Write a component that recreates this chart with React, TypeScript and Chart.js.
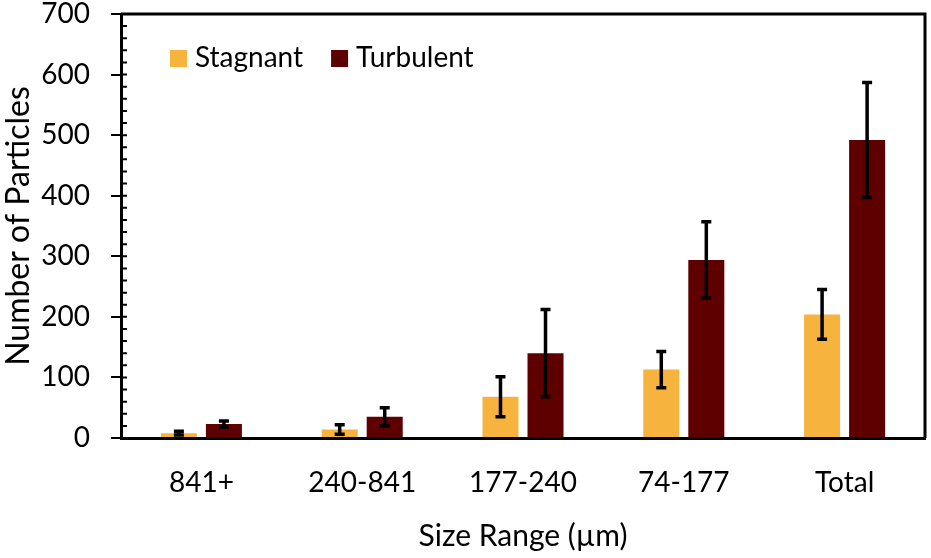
import React, { useEffect, useRef } from "react";
import { Chart, registerables } from "chart.js";

Chart.register(...registerables);

const categories = ["841+", "240-841", "177-240", "74-177", "Total"];
const seriesNames = ["Stagnant", "Turbulent"];
const stagnant = [8, 14, 68, 113, 204];
const stagnantErr = [3, 8, 33, 30, 41];
const turbulent = [23, 35, 140, 294, 492];
const turbulentErr = [5, 15, 72, 63, 95];
const yTicks = [0, 100, 200, 300, 400, 500, 600, 700];
const colors = ["#F6B43E", "#5E0000"];

const FONT = "Lato, 'Open Sans', sans-serif";

const errorBars = {
  id: "errorBars",
  afterDatasetsDraw(chart: any) {
    const ctx = chart.ctx;
    const y = chart.scales.y;
    const errs = [stagnantErr, turbulentErr];
    chart.data.datasets.forEach((ds: any, i: number) => {
      const meta = chart.getDatasetMeta(i);
      meta.data.forEach((el: any, j: number) => {
        const v = ds.data[j];
        const e = errs[i][j];
        const top = y.getPixelForValue(v + e);
        const bot = y.getPixelForValue(v - e);
        ctx.save();
        ctx.strokeStyle = "#000";
        ctx.lineWidth = 3.5;
        ctx.beginPath();
        ctx.moveTo(el.x, top);
        ctx.lineTo(el.x, bot);
        ctx.moveTo(el.x - 5, top);
        ctx.lineTo(el.x + 5, top);
        ctx.moveTo(el.x - 5, bot);
        ctx.lineTo(el.x + 5, bot);
        ctx.stroke();
        ctx.restore();
      });
    });
  },
};

const frameAndTicks = {
  id: "frameAndTicks",
  afterDraw(chart: any) {
    const ctx = chart.ctx;
    const a = chart.chartArea;
    const y = chart.scales.y;
    ctx.save();
    ctx.strokeStyle = "#000";
    ctx.lineWidth = 3;
    ctx.beginPath();
    ctx.moveTo(a.left, a.top);
    ctx.lineTo(a.right, a.top);
    ctx.lineTo(a.right, a.bottom);
    ctx.stroke();
    ctx.lineWidth = 2;
    ctx.beginPath();
    for (let v = 0; v <= 700; v += 20) {
      const py = y.getPixelForValue(v);
      ctx.moveTo(a.left, py);
      ctx.lineTo(a.left + 6, py);
    }
    ctx.stroke();
    ctx.restore();
  },
};

const legendPlugin = {
  id: "customLegend",
  afterDraw(chart: any) {
    const ctx = chart.ctx;
    const a = chart.chartArea;
    ctx.save();
    ctx.font = `28px ${FONT}`;
    ctx.textBaseline = "middle";
    ctx.fillStyle = "#000";
    let x = a.left + 49;
    const cy = a.top + 44;
    chart.data.datasets.forEach((ds: any) => {
      ctx.fillStyle = ds.backgroundColor;
      ctx.fillRect(x, cy - 8, 17, 17);
      ctx.fillStyle = "#000";
      ctx.fillText(ds.label, x + 25, cy);
      x += 25 + ctx.measureText(ds.label).width + 28;
    });
    ctx.restore();
  },
};

export default function App() {
  const ref = useRef<HTMLCanvasElement>(null);
  useEffect(() => {
    const chart = new Chart(ref.current!, {
      type: "bar",
      data: {
        labels: categories,
        datasets: [
          { label: seriesNames[0], data: stagnant, backgroundColor: colors[0] },
          { label: seriesNames[1], data: turbulent, backgroundColor: colors[1] },
        ],
      },
      options: {
        animation: false,
        responsive: false,
        layout: { padding: { left: 0, right: 6, top: 14, bottom: 0 } },
        datasets: { bar: { categoryPercentage: 0.56, barPercentage: 0.8 } },
        plugins: { legend: { display: false }, tooltip: { enabled: false } },
        scales: {
          x: {
            grid: { display: false },
            border: { display: true, color: "#000", width: 3 },
            ticks: { color: "#000", font: { family: FONT, size: 28 }, padding: 20 },
            title: {
              display: true,
              text: "Size Range (µm)",
              color: "#000",
              font: { family: FONT, size: 30 },
              padding: { top: 0, bottom: 4 },
            },
            afterFit(scale: any) {
              scale.height = 120;
              scale.paddingLeft = 0;
              scale.paddingRight = 0;
            },
          },
          y: {
            min: 0,
            max: 700,
            afterBuildTicks(scale: any) {
              scale.ticks = yTicks.map((v) => ({ value: v }));
            },
            grid: { drawOnChartArea: false, drawTicks: true, tickLength: 10, color: "#000", lineWidth: 2 },
            border: { display: true, color: "#000", width: 3 },
            ticks: { color: "#000", font: { family: FONT, size: 28 }, padding: 21 },
            title: {
              display: true,
              text: "Number of Particles",
              color: "#000",
              font: { family: FONT, size: 32 },
              padding: { top: -1, bottom: 0 },
            },
            afterFit(scale: any) {
              scale.width = 121;
              scale.paddingTop = 0;
              scale.paddingBottom = 0;
            },
          },
        },
      },
      plugins: [errorBars, frameAndTicks, legendPlugin],
    });
    return () => chart.destroy();
  }, []);
  return (
    <div style={{ position: "fixed", left: 0, top: 0, width: 931, height: 558, background: "#fff" }}>
      <canvas ref={ref} width={931} height={558} />
    </div>
  );
}
